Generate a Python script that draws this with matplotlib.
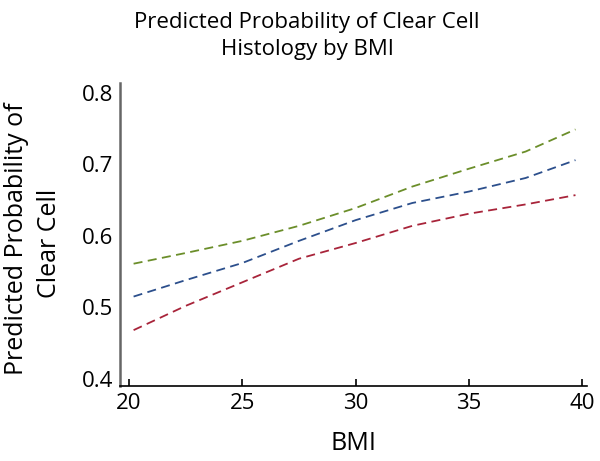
import matplotlib
matplotlib.use("Agg")
import matplotlib.pyplot as plt

plt.rcParams.update({
    "font.family": ["Open Sans", "DejaVu Sans"],
})

# valores
bmi = [20.2, 22.5, 25.0, 27.5, 30.0, 32.5, 35.0, 37.5, 39.7]
prob_verde = [0.561, 0.576, 0.593, 0.614, 0.639, 0.669, 0.694, 0.718, 0.749]
prob_azul = [0.515, 0.538, 0.562, 0.593, 0.622, 0.646, 0.662, 0.681, 0.706]
prob_vermelho = [0.468, 0.502, 0.535, 0.568, 0.590, 0.614, 0.631, 0.644, 0.657]

xticks = [20, 25, 30, 35, 40]
yticks = [0.4, 0.5, 0.6, 0.7, 0.8]

fig = plt.figure(figsize=(6.0, 4.61), dpi=100)
ax = fig.add_axes([0.2, 0.163, 0.778, 0.657])

series = [(prob_verde, "#6b8e2a"), (prob_azul, "#2c4f8c"),
          (prob_vermelho, "#a8243a")]
for y, cor in series:
    ax.plot(bmi, y, color=cor, lw=1.3, ls=(0, (5, 3)))

ax.set_xlim(19.6, 40.2)
ax.set_ylim(0.39, 0.814)
ax.set_xticks(xticks)
ax.set_yticks(yticks)
ax.set_xticklabels([str(v) for v in xticks])
ax.set_yticklabels([f"{v:.1f}" for v in yticks])
ax.tick_params(axis="x", direction="in", length=5, width=1.2,
               labelsize=16, pad=5)
ax.tick_params(axis="y", length=0, labelsize=16, pad=5)

for s in ["top", "right"]:
    ax.spines[s].set_visible(False)
ax.spines["left"].set_color("0.4")
ax.spines["left"].set_linewidth(1.8)
ax.spines["bottom"].set_linewidth(1.2)

ax.set_xlabel("BMI", fontsize=18)
ax.xaxis.set_label_coords(0.5, -0.15)

# rotulo do eixo y em duas linhas, cada uma centrada
fig.text(0.027, 0.483, "Predicted Probability of", rotation=90,
         ha="center", va="center", fontsize=18)
fig.text(0.083, 0.473, "Clear Cell", rotation=90,
         ha="center", va="center", fontsize=18)

fig.text(0.512, 0.975, "Predicted Probability of Clear Cell\nHistology by BMI",
         ha="center", va="top", fontsize=16, linespacing=1.4)

fig.savefig("out.png", facecolor="white")
